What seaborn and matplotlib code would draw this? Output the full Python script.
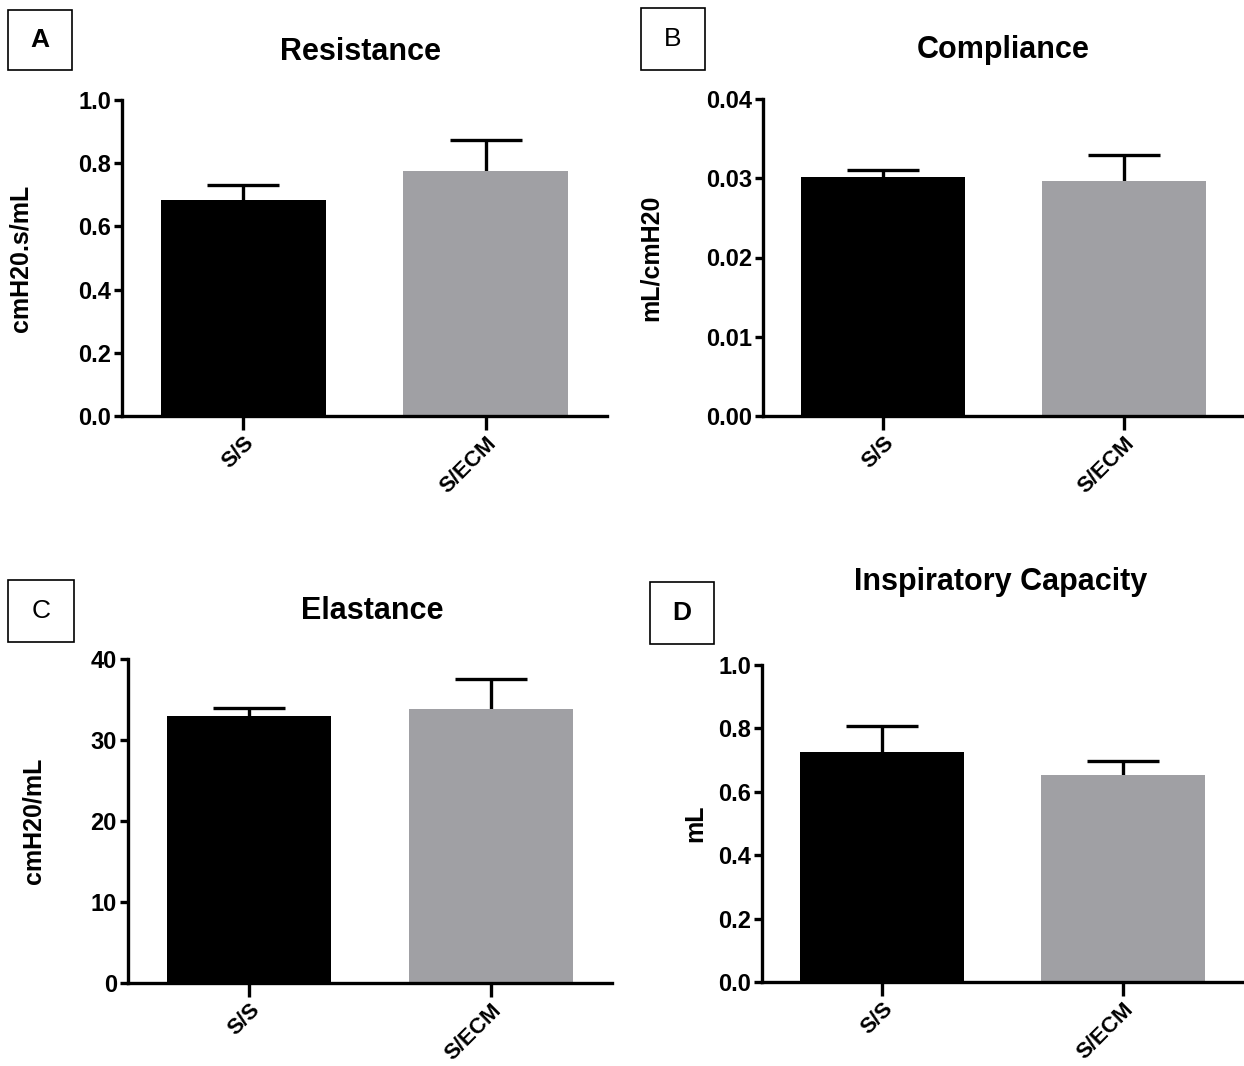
import numpy as np
import pandas as pd
import seaborn as sns
import matplotlib.pyplot as plt
from matplotlib.patches import Rectangle

groups = ["S/S", "S/ECM"]

resistance_mean = [0.685, 0.775]
resistance_sem = [0.045, 0.097]

compliance_mean = [0.0302, 0.0297]
compliance_sem = [0.0009, 0.0032]

elastance_mean = [33.0, 33.8]
elastance_sem = [0.9, 3.7]

capacity_mean = [0.725, 0.652]
capacity_sem = [0.083, 0.046]

bar_colors = ["#000000", "#a0a0a4"]

sns.set_style("ticks")
plt.rcParams['font.family'] = ['Liberation Sans', 'DejaVu Sans']
plt.rcParams['font.weight'] = 'bold'
for k in ['text.color', 'axes.labelcolor', 'xtick.color', 'ytick.color']:
    plt.rcParams[k] = 'black'

W, H = 1244, 1066
fig = plt.figure(figsize=(W / 100, H / 100), dpi=100)


def px_box(left, top, right, bottom):
    # pixel box -> figure fraction [l, b, w, h]
    return [left / W, 1 - bottom / H, (right - left) / W, (bottom - top) / H]


def panel(rect, means, sems, title, title_xy, ylabel, ylab_x, ymax, ystep, yfmt,
          letter, letter_box, letter_bold):
    ax = fig.add_axes(px_box(*rect))
    df = pd.DataFrame({"group": groups, "value": means})
    sns.barplot(data=df, x="group", y="value", hue="group", palette=bar_colors,
                width=0.68, saturation=1, legend=False, ax=ax, linewidth=0)
    # upper error bar only (mean + SEM)
    _, caps, _ = ax.errorbar(range(len(groups)), means,
                             yerr=[np.zeros(len(sems)), sems],
                             fmt="none", ecolor="black", elinewidth=2.4,
                             capsize=26, capthick=2.4, zorder=1)
    caps[0].set_visible(False)
    for b in ax.patches:
        b.set_zorder(2)
    ax.set_xlim(-0.5, 1.5)
    ax.set_ylim(0, ymax)
    yt = np.arange(0, ymax + ystep / 2, ystep)
    ax.set_yticks(yt)
    ax.set_yticklabels([yfmt.format(v) for v in yt], fontsize=17, fontweight="bold")
    ax.set_xticks(range(len(groups)))
    ax.set_xticklabels(groups, rotation=45, ha="right", rotation_mode="anchor",
                       fontsize=16, fontweight="bold")
    ax.set_xlabel("")
    ax.set_ylabel(ylabel, fontsize=18, fontweight="bold")
    # label x is the right edge of the rotated text
    lx = (ylab_x - rect[0]) / (rect[2] - rect[0])
    ax.yaxis.set_label_coords(lx, 0.5)
    sns.despine(ax=ax)
    for s in ["left", "bottom"]:
        ax.spines[s].set_linewidth(2.4)
        ax.spines[s].set_color("black")
    ax.tick_params(axis="y", length=6, width=2.4, color="black", pad=2)
    ax.tick_params(axis="x", length=10, width=2.4, color="black", pad=2)
    fig.text(title_xy[0] / W, 1 - title_xy[1] / H, title, fontsize=22,
             fontweight="bold", ha="center", va="center")
    l, t, r, b = letter_box
    fig.patches.append(Rectangle((l / W, 1 - b / H), (r - l) / W, (b - t) / H,
                                 transform=fig.transFigure, fill=False,
                                 edgecolor="black", linewidth=1.2))
    fig.text((l + r) / 2 / W, 1 - (t + b) / 2 / H, letter, fontsize=19,
             fontweight="bold" if letter_bold else "normal",
             ha="center", va="center")
    return ax


panel((122, 100, 607, 416), resistance_mean, resistance_sem, "Resistance",
      (360, 52), "cmH20.s/mL", 33, 1.0, 0.2, "{:.1f}", "A", (8, 10, 72, 70), True)
panel((763, 99, 1244, 416), compliance_mean, compliance_sem, "Compliance",
      (1003, 50), "mL/cmH20", 663, 0.04, 0.01, "{:.2f}", "B", (641, 8, 705, 70), False)
panel((128, 659, 612, 983), elastance_mean, elastance_sem, "Elastance",
      (372, 611), "cmH20/mL", 45, 40, 10, "{:.0f}", "C", (8, 580, 74, 642), False)
panel((762, 665, 1243, 982), capacity_mean, capacity_sem, "Inspiratory Capacity",
      (1001, 582), "mL", 707, 1.0, 0.2, "{:.1f}", "D", (650, 582, 714, 644), True)

plt.savefig("out.png", dpi=100)
